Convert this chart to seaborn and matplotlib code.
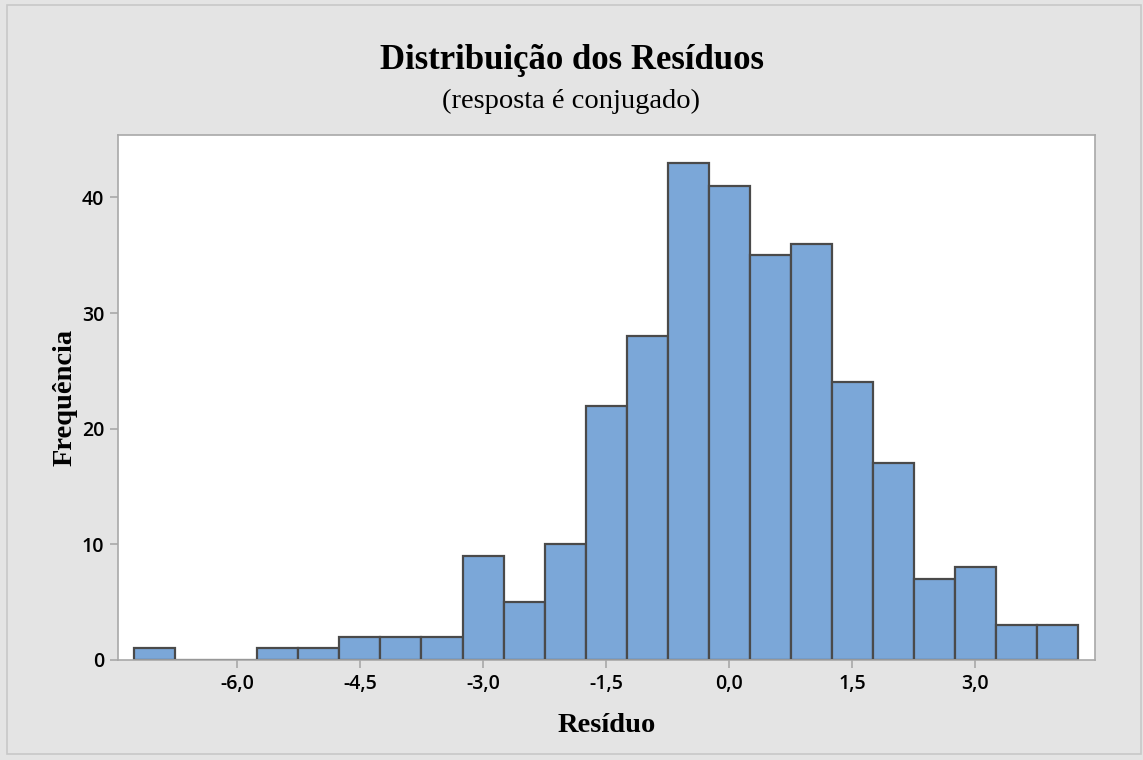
import pandas as pd
import matplotlib
matplotlib.use("Agg")
import matplotlib.pyplot as plt
import seaborn as sns

# histogram counts, bins of width 0.5 centred on multiples of 0.5
bin_centers = [-7.0, -6.5, -6.0, -5.5, -5.0, -4.5, -4.0, -3.5, -3.0, -2.5, -2.0,
               -1.5, -1.0, -0.5, 0.0, 0.5, 1.0, 1.5, 2.0, 2.5, 3.0, 3.5, 4.0]
counts = [1, 0, 0, 1, 1, 2, 2, 2, 9, 5, 10,
          22, 28, 43, 41, 35, 36, 24, 17, 7, 8, 3, 3]
x_ticks = [-6.0, -4.5, -3.0, -1.5, 0.0, 1.5, 3.0]
x_tick_labels = ["-6,0", "-4,5", "-3,0", "-1,5", "0,0", "1,5", "3,0"]
y_ticks = [0, 10, 20, 30, 40]

df = pd.DataFrame({"residuo": bin_centers, "n": counts})

sns.set_theme(style="white")
plt.rcParams["font.family"] = ["Open Sans", "DejaVu Sans"]
plt.rcParams["text.color"] = "black"

BG = "#E4E4E4"
fig = plt.figure(figsize=(11.43, 7.6), dpi=100, facecolor=BG)
ax = fig.add_axes([0.1032, 0.1316, 0.8548, 0.6908])

sns.histplot(data=df, x="residuo", weights="n", binwidth=0.5, binrange=(-7.25, 4.25),
             color="#7BA7D8", edgecolor="#4A4A4A", linewidth=1.6, alpha=1.0, ax=ax)

ax.set_xlim(-7.45, 4.46)
ax.set_ylim(0, 45.4)
ax.set_xticks(x_ticks)
ax.set_xticklabels(x_tick_labels)
ax.set_yticks(y_ticks)
for s in ax.spines.values():
    s.set_color("#A8A8A8")
    s.set_linewidth(1.2)
ax.tick_params(axis="both", bottom=True, left=True, direction="out", length=6, width=1.2,
               color="#A8A8A8", labelsize=14, labelcolor="black", pad=4)
for lab in ax.get_xticklabels() + ax.get_yticklabels():
    lab.set_fontweight("semibold")

serif = ["Liberation Serif", "DejaVu Serif"]
ax.set_xlabel("Resíduo", family=serif, fontsize=20.5, fontweight="bold",
              color="black", labelpad=14)
ax.set_ylabel("Frequência", family=serif, fontsize=20.5, fontweight="bold",
              color="black", labelpad=3)

fig.text(0.5, 0.921, "Distribuição dos Resíduos", family=serif, fontsize=25,
         fontweight="bold", ha="center", va="center", color="black")
fig.text(0.5, 0.866, "(resposta é conjugado)", family=serif, fontsize=20.5,
         ha="center", va="center", color="black")

# outer frame like the original export
fig.patches.append(plt.Rectangle((0.006, 0.008), 0.992, 0.986, transform=fig.transFigure,
                                 fill=False, edgecolor="#C8C8C8", linewidth=1.2))

plt.savefig("out.png", dpi=100, facecolor=BG)
plt.close()
